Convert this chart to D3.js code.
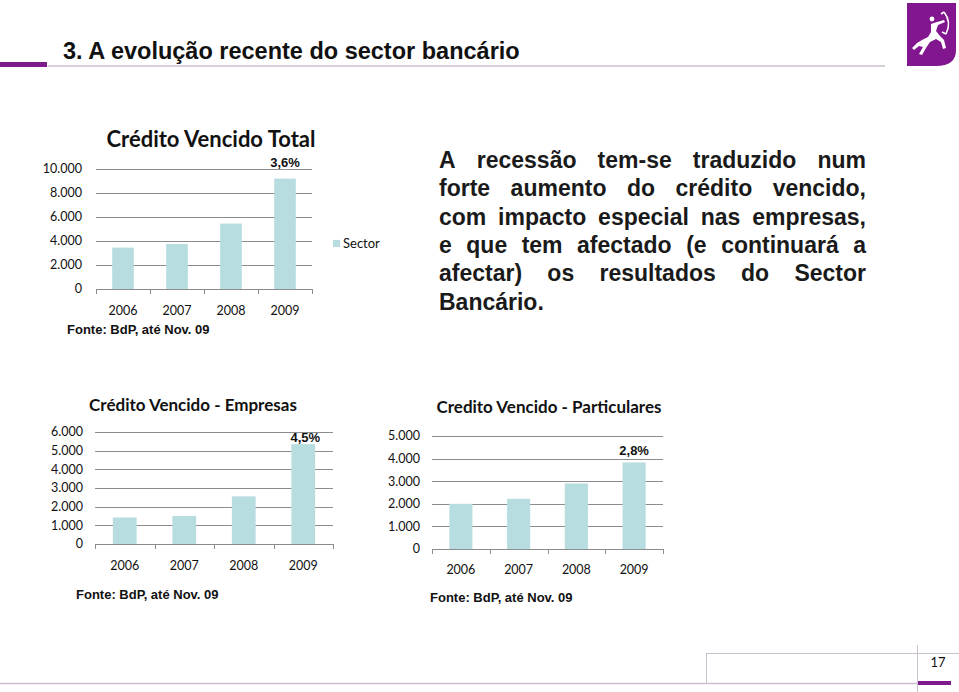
<!DOCTYPE html>
<html>
<head>
<meta charset="utf-8">
<script src="https://cdn.jsdelivr.net/npm/d3@7"></script>
<style>
  html, body { margin: 0; padding: 0; background: #fff; }
  svg { display: block; }
</style>
</head>
<body>
<svg id="slide" width="959" height="692"></svg>
<script>
// ---------- DATA ----------
const years = ["2006", "2007", "2008", "2009"];
const totalValues = [3450, 3750, 5450, 9200];
const empresasValues = [1420, 1500, 2550, 5350];
const particularesValues = [2000, 2220, 2900, 3830];
const totalTicks = [0, 2000, 4000, 6000, 8000, 10000];
const empresasTicks = [0, 1000, 2000, 3000, 4000, 5000, 6000];
const particularesTicks = [0, 1000, 2000, 3000, 4000, 5000];
const totalLabel = "3,6%";
const empresasLabel = "4,5%";
const particularesLabel = "2,8%";
const sourceText = "Fonte: BdP, até Nov. 09";
const slideTitle = "3. A evolução recente do sector bancário";
const paragraphLines = [
  "A recessão tem-se traduzido num",
  "forte aumento do crédito vencido,",
  "com impacto especial nas empresas,",
  "e que tem afectado (e continuará a",
  "afectar) os resultados do Sector",
  "Bancário."
];
const pageNumber = "17";

// ---------- STYLE ----------
const PURPLE = "#7d1a8c";
const BAR = "#b7dde1";
const GRID = "#8c8c8c";
const LINE = "#cbbfcf";
const CAL = "Lato, 'Open Sans', sans-serif";
const ARIAL = "'Liberation Sans', Arial, sans-serif";
const fmt = v => d3.format(",")(v).replace(/,/g, ".");

const svg = d3.select("#slide");

// ---------- HEADER ----------
svg.append("rect").attr("x", 0).attr("y", 62).attr("width", 47).attr("height", 5).attr("fill", PURPLE);
svg.append("line").attr("x1", 48).attr("x2", 885).attr("y1", 66).attr("y2", 66)
  .attr("stroke", LINE).attr("stroke-width", 1.5);
svg.append("text").attr("x", 63).attr("y", 59).text(slideTitle)
  .attr("font-family", ARIAL).attr("font-weight", "bold").attr("font-size", 23.5).attr("fill", "#111");

// logo
const logo = svg.append("g");
logo.append("path").attr("d", "M907,3 H956 V50 Q956,66 936,66 H907 Z").attr("fill", "#81168f");
logo.append("path")
  .attr("d", "M944,12 Q952,22 946,34 M944,12 L941,14 M946,34 L942,32")
  .attr("stroke", "#fff").attr("stroke-width", 1.6).attr("fill", "none");
logo.append("path")
  .attr("d", "M931,24 L937,22 L944,20 L945,22 L938,25 L936,31 L940,36 L944,40 L946,48 L943,49 L941,42 L936,39 L930,42 L926,48 L922,55 L919,54 L923,47 L919,46 L914,50 L912,48 L917,43 L922,40 L928,37 L931,32 Z")
  .attr("fill", "#fff");
logo.append("circle").attr("cx", 932).attr("cy", 19).attr("r", 2.4).attr("fill", "#fff");

// ---------- FOOTER ----------
svg.append("line").attr("x1", 0).attr("x2", 917).attr("y1", 683.5).attr("y2", 683.5).attr("stroke", LINE).attr("stroke-width", 1.5);
svg.append("line").attr("x1", 706).attr("x2", 959).attr("y1", 653.5).attr("y2", 653.5).attr("stroke", LINE).attr("stroke-width", 1);
svg.append("line").attr("x1", 706.5).attr("x2", 706.5).attr("y1", 653).attr("y2", 683).attr("stroke", LINE).attr("stroke-width", 1);
svg.append("line").attr("x1", 917.5).attr("x2", 917.5).attr("y1", 645).attr("y2", 692).attr("stroke", LINE).attr("stroke-width", 1);
svg.append("rect").attr("x", 918).attr("y", 681).attr("width", 33).attr("height", 4).attr("fill", PURPLE);
svg.append("text").attr("x", 938).attr("y", 667).attr("text-anchor", "middle").text(pageNumber)
  .attr("font-family", CAL).attr("font-size", 13).attr("fill", "#111");

// ---------- PARAGRAPH (justified) ----------
const paraLeft = 439, paraRight = 866, paraTop = 168, lineH = 28.3;
paragraphLines.forEach((ln, i) => {
  const y = paraTop + i * lineH;
  const words = ln.split(" ");
  const t = svg.append("text").attr("y", y)
    .attr("font-family", ARIAL).attr("font-weight", "bold").attr("font-size", 23).attr("fill", "#1a1a1a");
  const spans = words.map(w => t.append("tspan").text(w));
  const widths = spans.map(s => s.node().getComputedTextLength());
  const last = i === paragraphLines.length - 1;
  const total = d3.sum(widths);
  const spaceW = 6.4;
  const gap = last ? spaceW : (paraRight - paraLeft - total) / (words.length - 1);
  let x = paraLeft;
  spans.forEach((s, k) => { s.attr("x", x); x += widths[k] + gap; });
});

// ---------- BAR CHART FUNCTION ----------
function barChart(opt) {
  const g = svg.append("g");
  const x = d3.scaleBand().domain(years).range([opt.x0, opt.x1]).paddingInner(0.6).paddingOuter(0.3);
  const y = d3.scaleLinear().domain([0, d3.max(opt.ticks)]).range([opt.y0, opt.yTop]);

  // gridlines
  g.selectAll("line.grid").data(opt.ticks.filter(d => d > 0)).join("line")
    .attr("x1", opt.x0).attr("x2", opt.x1)
    .attr("y1", d => Math.round(y(d)) + 0.5).attr("y2", d => Math.round(y(d)) + 0.5)
    .attr("stroke", GRID).attr("stroke-width", 1);

  // y tick labels
  g.selectAll("text.yt").data(opt.ticks).join("text")
    .attr("x", opt.labelRight).attr("y", d => y(d)).attr("dy", "0.35em")
    .attr("text-anchor", "end").text(fmt)
    .attr("font-family", CAL).attr("font-size", opt.tickSize).attr("fill", "#111");

  // bars
  g.selectAll("rect.bar").data(opt.values).join("rect")
    .attr("x", (d, i) => x(years[i])).attr("width", x.bandwidth())
    .attr("y", d => y(d)).attr("height", d => y(0) - y(d))
    .attr("fill", BAR);

  // x axis
  const axis = d3.axisBottom(x).tickSize(0).tickFormat("");
  const ax = g.append("g").attr("transform", `translate(0,${Math.round(y(0)) + 0.5})`).call(axis);
  ax.select(".domain").attr("stroke", GRID).attr("d", `M${opt.x0},0H${opt.x1}`);
  const bounds = years.map(yr => x(yr) - x.step() * x.paddingInner() / 2).concat([opt.x1]);
  g.selectAll("line.xt").data(bounds).join("line")
    .attr("x1", d => Math.round(d) + 0.5).attr("x2", d => Math.round(d) + 0.5)
    .attr("y1", Math.round(y(0))).attr("y2", Math.round(y(0)) + 5)
    .attr("stroke", GRID);

  // x labels
  g.selectAll("text.xl").data(years).join("text")
    .attr("x", d => x(d) + x.bandwidth() / 2).attr("y", opt.xLabelY).attr("dy", "0.35em")
    .attr("text-anchor", "middle").text(d => d)
    .attr("font-family", CAL).attr("font-size", opt.tickSize).attr("fill", "#111");

  // value label on last bar
  g.append("text").attr("x", x(years[3]) + x.bandwidth() / 2 + opt.pctDx).attr("y", opt.pctY)
    .attr("text-anchor", "middle").text(opt.pct)
    .attr("font-family", ARIAL).attr("font-weight", "bold").attr("font-size", 13).attr("fill", "#111");

  // title
  g.append("text").attr("x", opt.titleX).attr("y", opt.titleY).attr("dy", "0.35em")
    .attr("text-anchor", "middle").text(opt.title)
    .attr("font-family", CAL).attr("font-weight", "bold").attr("font-size", opt.titleSize).attr("fill", "#111");

  // source
  g.append("text").attr("x", opt.srcX).attr("y", opt.srcY).attr("dy", "0.35em")
    .text(sourceText)
    .attr("font-family", ARIAL).attr("font-weight", "bold").attr("font-size", 13).attr("fill", "#111");
  return { g, x, y };
}

barChart({
  values: totalValues, ticks: totalTicks, x0: 96, x1: 312, y0: 289, yTop: 169,
  labelRight: 82, tickSize: 12.5, xLabelY: 311, pct: totalLabel, pctDx: 0, pctY: 167,
  title: "Crédito Vencido Total", titleX: 211, titleY: 139, titleSize: 22,
  srcX: 67, srcY: 329
});
// legend for chart 1
svg.append("rect").attr("x", 333).attr("y", 240).attr("width", 7).attr("height", 7).attr("fill", BAR);
svg.append("text").attr("x", 343).attr("y", 243.5).attr("dy", "0.35em").text("Sector")
  .attr("font-family", CAL).attr("font-size", 13).attr("fill", "#111");

barChart({
  values: empresasValues, ticks: empresasTicks, x0: 95, x1: 333, y0: 544, yTop: 432,
  labelRight: 83, tickSize: 12.5, xLabelY: 566, pct: empresasLabel, pctDx: 2, pctY: 442,
  title: "Crédito Vencido - Empresas", titleX: 193, titleY: 405, titleSize: 17,
  srcX: 76, srcY: 594
});

barChart({
  values: particularesValues, ticks: particularesTicks, x0: 432, x1: 663, y0: 549, yTop: 436,
  labelRight: 420, tickSize: 12.5, xLabelY: 570, pct: particularesLabel, pctDx: 0, pctY: 455,
  title: "Credito Vencido - Particulares", titleX: 549, titleY: 407, titleSize: 17,
  srcX: 430, srcY: 597
});
</script>
</body>
</html>
